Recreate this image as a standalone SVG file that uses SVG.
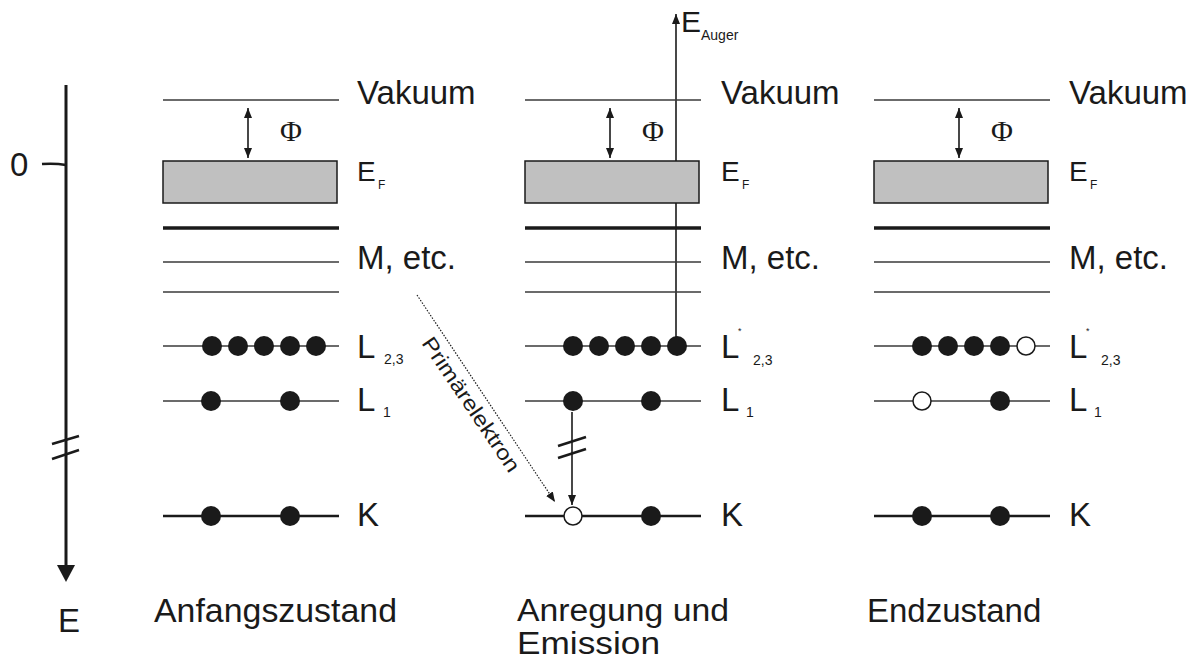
<svg xmlns="http://www.w3.org/2000/svg" width="1196" height="661" viewBox="0 0 1196 661">
<defs>
<style>
text{font-family:"Liberation Sans",Arial,sans-serif;fill:#1a1a1a}
.lbl{font-size:33px}
.sub{font-size:14px}
.ef{font-size:28px}
.phi{font-family:"Liberation Serif","Times New Roman",serif;font-size:30px}
.thin{stroke:#3a3a3a;stroke-width:1.3;fill:none}
.thick{stroke:#1a1a1a;stroke-width:3.5;fill:none}
.kline{stroke:#1a1a1a;stroke-width:2.5;fill:none}
.band{fill:#c0c0c0;stroke:#1a1a1a;stroke-width:1.5}
.full{fill:#1a1a1a}
.hole{fill:#fff;stroke:#1a1a1a;stroke-width:1.5}
.arr{stroke:#1a1a1a;stroke-width:1.6;fill:none}
.brk{stroke:#1a1a1a;stroke-width:2.5}
</style>
<marker id="ah" markerUnits="userSpaceOnUse" markerWidth="10" markerHeight="12" refX="10" refY="4" orient="auto-start-reverse">
<path d="M0,0 L10,4 L0,8 Z" fill="#1a1a1a"/>
</marker>
<g id="levels">
<line class="thin" x1="0" y1="100" x2="176" y2="100"/>
<rect class="band" x="0" y="161" width="174" height="42"/>
<line class="thick" x1="0" y1="228" x2="176" y2="228"/>
<line class="thin" x1="0" y1="262" x2="176" y2="262"/>
<line class="thin" x1="0" y1="292" x2="176" y2="292"/>
<line class="thin" x1="0" y1="346" x2="176" y2="346"/>
<line class="thin" x1="0" y1="401" x2="176" y2="401"/>
<line class="kline" x1="0" y1="516" x2="176" y2="516"/>
<line class="arr" x1="85" y1="108" x2="85" y2="158" marker-start="url(#ah)" marker-end="url(#ah)"/>
<text class="phi" x="128" y="141" text-anchor="middle">Φ</text>
</g>
</defs>

<g id="axis">
<line x1="66" y1="85" x2="66" y2="570" stroke="#1a1a1a" stroke-width="3"/>
<path d="M66,582 L57,565 L75,565 Z" fill="#1a1a1a"/>
<path d="M42,164 Q55,163 66,165" stroke="#1a1a1a" stroke-width="2.5" fill="none"/>
<line class="brk" x1="52" y1="444" x2="79" y2="436"/>
<line class="brk" x1="52" y1="459" x2="79" y2="450"/>
<text class="lbl" x="10" y="176">0</text>
<text class="lbl" x="58" y="632">E</text>
</g>

<g id="connectors">
<line class="arr" x1="676" y1="346" x2="676" y2="14" marker-end="url(#ah)"/>
<text class="lbl" x="681" y="32" style="font-size:30px">E</text><text class="sub" x="701" y="40">Auger</text>
<line class="arr" x1="572" y1="412" x2="572" y2="505" marker-end="url(#ah)"/>
<line class="brk" x1="558" y1="446" x2="586" y2="437"/>
<line class="brk" x1="558" y1="458" x2="586" y2="449"/>
<line x1="417" y1="295" x2="555" y2="502" stroke="#1a1a1a" stroke-width="1.2" stroke-dasharray="1.5,1.5" marker-end="url(#ah)"/>
<text transform="translate(421,343) rotate(56)" style="font-size:21px" textLength="158" lengthAdjust="spacingAndGlyphs">Primärelektron</text>
</g>

<g id="col-anfang">
<use href="#levels" x="163"/>
<circle class="full" cx="212" cy="346" r="10"/>
<circle class="full" cx="238" cy="346" r="10"/>
<circle class="full" cx="264" cy="346" r="10"/>
<circle class="full" cx="290" cy="346" r="10"/>
<circle class="full" cx="316" cy="346" r="10"/>
<circle class="full" cx="211" cy="401" r="10"/>
<circle class="full" cx="290" cy="401" r="10"/>
<circle class="full" cx="211" cy="516" r="10"/>
<circle class="full" cx="290" cy="516" r="10"/>
<text class="lbl" x="357" y="104">Vakuum</text>
<text class="ef" x="357" y="181">E</text><text class="sub" x="378" y="189" style="font-size:12px">F</text>
<text class="lbl" x="357" y="269">M, etc.</text>
<text class="lbl" x="357" y="358">L</text><text class="sub" x="384" y="364">2,3</text>
<text class="lbl" x="357" y="411">L</text><text class="sub" x="383" y="417">1</text>
<text class="lbl" x="357" y="526">K</text>
<text class="lbl" x="154" y="622" textLength="243" lengthAdjust="spacingAndGlyphs">Anfangszustand</text>
</g>

<g id="col-anregung">
<use href="#levels" x="525"/>
<circle class="full" cx="573" cy="346" r="10"/>
<circle class="full" cx="599" cy="346" r="10"/>
<circle class="full" cx="625" cy="346" r="10"/>
<circle class="full" cx="651" cy="346" r="10"/>
<circle class="full" cx="677" cy="346" r="10"/>
<circle class="full" cx="573" cy="401" r="10"/>
<circle class="full" cx="651" cy="401" r="10"/>
<circle class="hole" cx="573" cy="516" r="9"/>
<circle class="full" cx="651" cy="516" r="10"/>
<text class="lbl" x="721" y="104">Vakuum</text>
<text class="ef" x="721" y="181">E</text><text class="sub" x="742" y="189" style="font-size:12px">F</text>
<text class="lbl" x="721" y="269">M, etc.</text>
<text class="lbl" x="721" y="358">L</text><text class="sub" x="738" y="334" style="font-size:9px">*</text><text class="sub" x="753" y="365">2,3</text>
<text class="lbl" x="721" y="411">L</text><text class="sub" x="746" y="417">1</text>
<text class="lbl" x="721" y="526">K</text>
<text class="lbl" x="517" y="621" style="font-size:31px" textLength="212" lengthAdjust="spacingAndGlyphs">Anregung und</text>
<text class="lbl" x="517" y="654" style="font-size:31px" textLength="143" lengthAdjust="spacingAndGlyphs">Emission</text>
</g>

<g id="col-end">
<use href="#levels" x="874"/>
<circle class="full" cx="922" cy="346" r="10"/>
<circle class="full" cx="948" cy="346" r="10"/>
<circle class="full" cx="974" cy="346" r="10"/>
<circle class="full" cx="1000" cy="346" r="10"/>
<circle class="hole" cx="1026" cy="346" r="9"/>
<circle class="hole" cx="922" cy="401" r="9"/>
<circle class="full" cx="1000" cy="401" r="10"/>
<circle class="full" cx="922" cy="516" r="10"/>
<circle class="full" cx="1000" cy="516" r="10"/>
<text class="lbl" x="1069" y="104">Vakuum</text>
<text class="ef" x="1069" y="181">E</text><text class="sub" x="1090" y="189" style="font-size:12px">F</text>
<text class="lbl" x="1069" y="269">M, etc.</text>
<text class="lbl" x="1069" y="358">L</text><text class="sub" x="1086" y="334" style="font-size:9px">*</text><text class="sub" x="1101" y="365">2,3</text>
<text class="lbl" x="1069" y="411">L</text><text class="sub" x="1094" y="417">1</text>
<text class="lbl" x="1069" y="526">K</text>
<text class="lbl" x="867" y="622">Endzustand</text>
</g>
</svg>
